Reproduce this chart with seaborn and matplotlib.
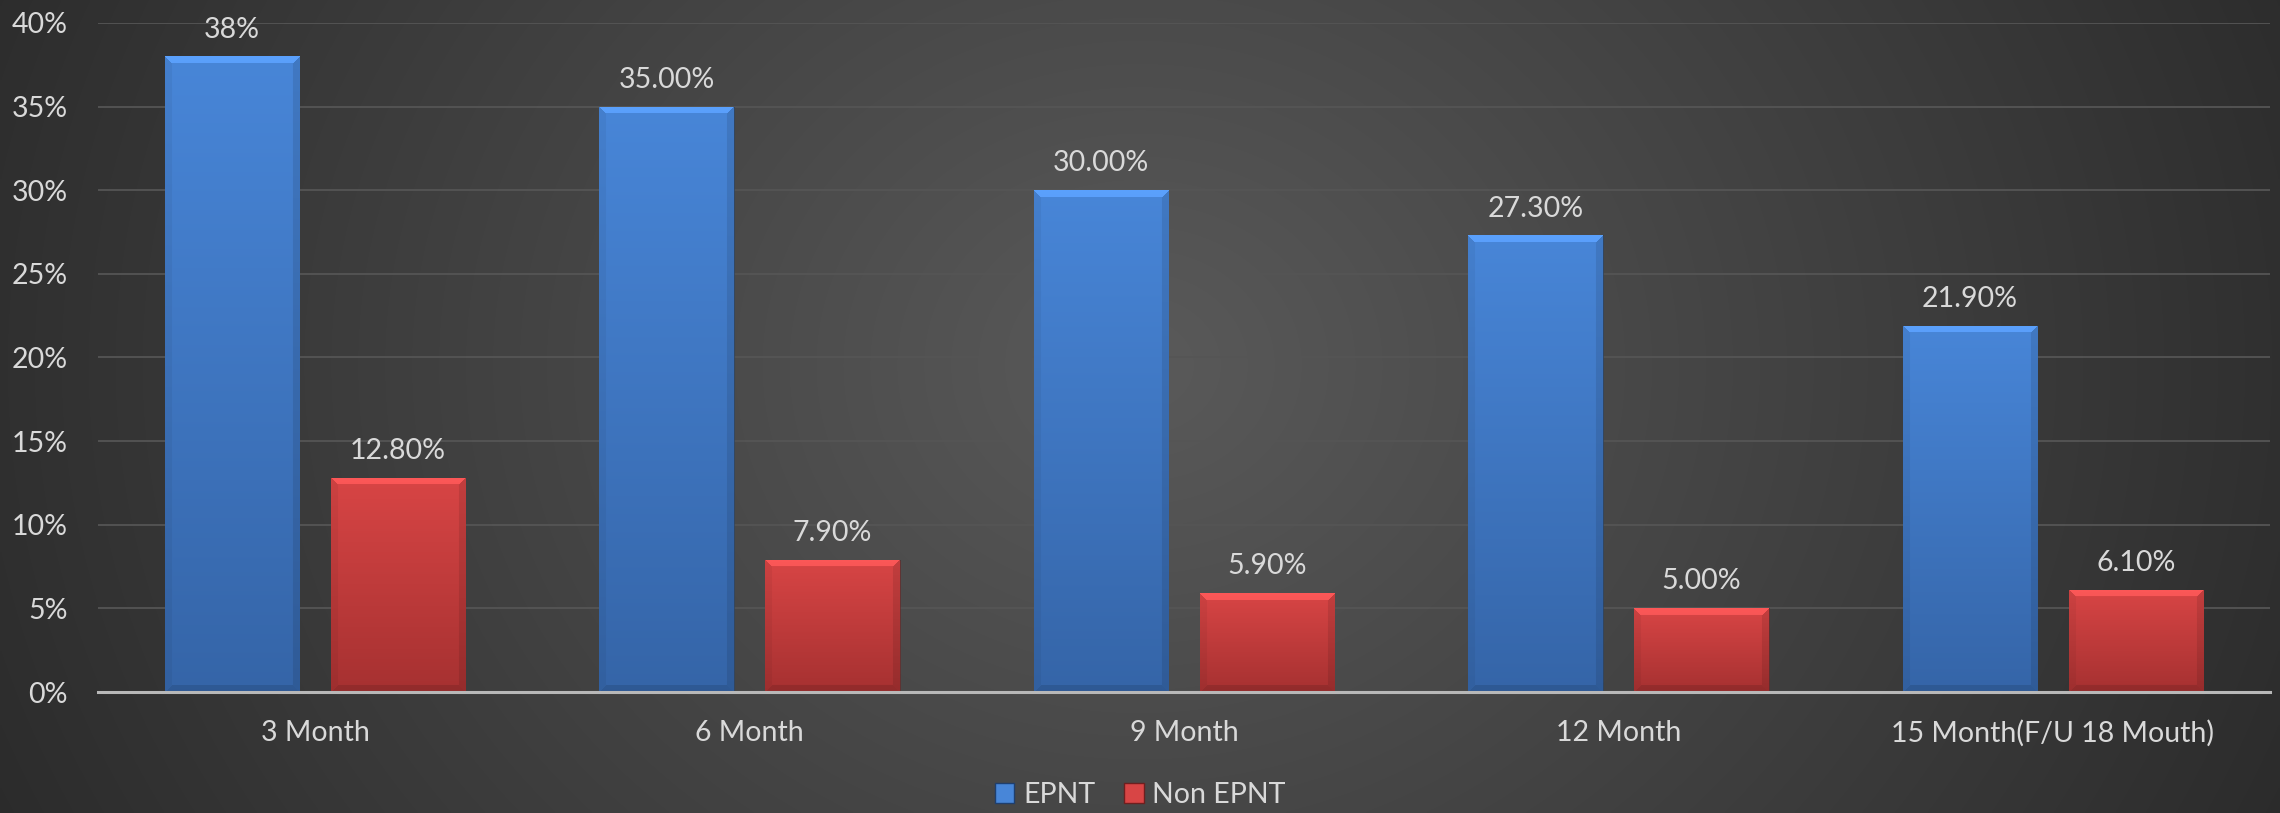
import numpy as np
import pandas as pd
import matplotlib
matplotlib.use("Agg")
import matplotlib.pyplot as plt
import seaborn as sns
from matplotlib.colors import to_rgb
from matplotlib.patches import Patch
from matplotlib.ticker import MultipleLocator, FuncFormatter

# ---- data ----
periods = ["3 Month", "6 Month", "9 Month", "12 Month", "15 Month(F/U 18 Mouth)"]
groups = ["EPNT", "Non EPNT"]
epnt = [38.0, 35.0, 30.0, 27.3, 21.9]
non_epnt = [12.8, 7.9, 5.9, 5.0, 6.1]
epnt_labels = ["38%", "35.00%", "30.00%", "27.30%", "21.90%"]
non_epnt_labels = ["12.80%", "7.90%", "5.90%", "5.00%", "6.10%"]

df = pd.DataFrame({
    "Period": periods * 2,
    "Group": [groups[0]] * len(periods) + [groups[1]] * len(periods),
    "Rate": epnt + non_epnt,
})

# ---- style ----
TEXT = "#d9d9d9"
FS = 20.5
BLUE_TOP, BLUE_BOT = "#4886d8", "#3565a8"
RED_TOP, RED_BOT = "#d84545", "#a63131"

sns.set_theme(style="dark")
plt.rcParams["font.family"] = ["Lato", "DejaVu Sans"]

W_PX, H_PX = 2280, 813
fig = plt.figure(figsize=(W_PX / 100, H_PX / 100), dpi=100)

# dark background with a soft light centre
bg = fig.add_axes([0, 0, 1, 1], zorder=-10)
yy, xx = np.mgrid[0:1:300j, 0:1:800j]
r = np.clip(np.sqrt(((xx - 0.5) / 0.58) ** 2 + ((yy - 0.45) / 1.4) ** 2), 0, 1)
c_in, c_out = np.array(to_rgb("#5a5a5a")), np.array(to_rgb("#292929"))
bg_img = c_in[None, None, :] * (1 - r[..., None]) + c_out[None, None, :] * r[..., None]
bg.imshow(bg_img, extent=(0, 1, 0, 1), aspect="auto", interpolation="bilinear")
bg.set_axis_off()

ax = fig.add_axes([98 / W_PX, 1 - 692 / H_PX, (2270 - 98) / W_PX, (692 - 23) / H_PX])
ax.set_facecolor("none")

sns.barplot(data=df, x="Period", y="Rate", hue="Group",
            palette=[BLUE_TOP, RED_TOP], width=0.764, gap=0.19,
            saturation=1, ax=ax, legend=False)

ax.set_xlim(-0.5, len(periods) - 0.5)
ax.set_ylim(0, 40)
ax.yaxis.set_major_locator(MultipleLocator(5))
ax.yaxis.set_major_formatter(FuncFormatter(lambda v, _: f"{v:.0f}%"))
ax.grid(axis="y", color="#555555", linewidth=1.3, zorder=0)
ax.grid(axis="x", visible=False)
ax.set_axisbelow(True)
for s in ["left", "right", "top"]:
    ax.spines[s].set_visible(False)
ax.spines["bottom"].set_color("#b8b8b8")
ax.spines["bottom"].set_linewidth(2.2)
ax.spines["bottom"].set_zorder(6)
ax.tick_params(axis="both", length=0, labelsize=FS, labelcolor=TEXT)
ax.tick_params(axis="y", pad=22)
ax.tick_params(axis="x", pad=20)
ax.set_xlabel("")
ax.set_ylabel("")


def bevel_image(w, h, top, bot, b=7):
    """Vertical gradient with a bevelled rim, sized in pixels."""
    w, h = max(int(round(w)), 2), max(int(round(h)), 2)
    i, j = np.mgrid[0:h, 0:w]
    t = i / max(h - 1, 1)
    top, bot = np.array(to_rgb(top)), np.array(to_rgb(bot))
    img = top[None, None, :] * (1 - t[..., None]) + bot[None, None, :] * t[..., None]
    dl, dr, db = j, w - 1 - j, h - 1 - i
    top_rim = (i < b) & (i <= dl) & (i <= dr)
    left_rim = (dl < b) & (dl < i) & (dl <= db)
    right_rim = (dr < b) & (dr < i) & (dr <= db)
    bot_rim = (db < b) & (db < dl) & (db < dr)
    img[top_rim] = np.clip(img[top_rim] * 1.12 + 0.04, 0, 1)
    img[left_rim] = img[left_rim] * 0.95
    img[right_rim] = img[right_rim] * 0.9
    img[bot_rim] = img[bot_rim] * 0.88
    return img


colors = [(BLUE_TOP, BLUE_BOT), (RED_TOP, RED_BOT)]
for cont, (ctop, cbot), labels in zip(ax.containers, colors, [epnt_labels, non_epnt_labels]):
    for bar in cont:
        x0, y0 = bar.get_x(), bar.get_y()
        x1, y1 = x0 + bar.get_width(), y0 + bar.get_height()
        (px0, py0), (px1, py1) = ax.transData.transform([(x0, y0), (x1, y1)])
        img = bevel_image(px1 - px0, py1 - py0, ctop, cbot)
        im = ax.imshow(img, extent=(x0, x1, y0, y1), aspect="auto",
                       interpolation="bilinear", zorder=3)
        im.set_clip_path(bar)
        bar.set_edgecolor((0.1, 0.1, 0.1, 0.5))
        bar.set_linewidth(0.6)
    ax.bar_label(cont, labels=labels, padding=10, fontsize=FS, color=TEXT)

ax.set_xlim(-0.5, len(periods) - 0.5)
ax.set_ylim(0, 40)

handles = [Patch(facecolor=BLUE_TOP, edgecolor="#1f3f6e", label=groups[0]),
           Patch(facecolor=RED_TOP, edgecolor="#6e1f1f", label=groups[1])]
leg = fig.legend(handles=handles, loc="center", bbox_to_anchor=(0.5, 1 - 795 / H_PX),
                 ncol=2, frameon=False, fontsize=FS, labelcolor=TEXT,
                 handlelength=0.7, handleheight=0.7, handletextpad=0.3,
                 columnspacing=1.0)

fig.savefig("out.png", dpi=100)
